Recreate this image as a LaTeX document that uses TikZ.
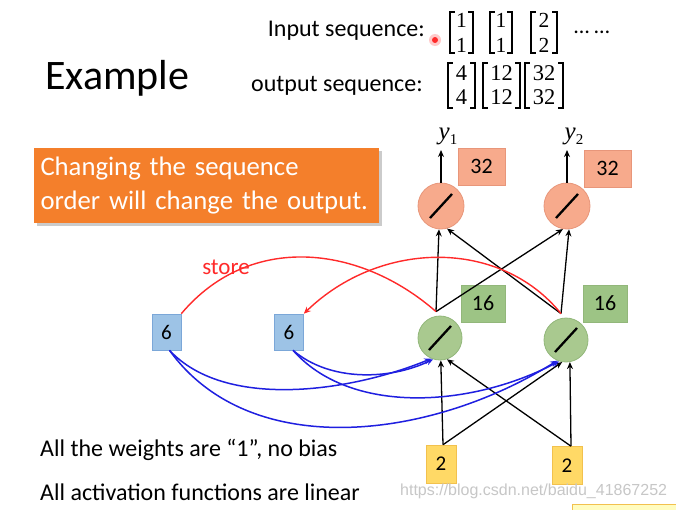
\documentclass[tikz,border=0pt]{standalone}
\usepackage{fontspec}
\setmainfont{Carlito}
\newfontfamily\wmfont{Liberation Sans}
\newfontfamily\labfont{Liberation Serif}
\usetikzlibrary{arrows.meta,shadows,calc}
\definecolor{orangebox}{HTML}{F47F2B}
\definecolor{salmonfill}{HTML}{F7AA8C}
\definecolor{salmonline}{HTML}{E8967A}
\definecolor{greenfill}{HTML}{A9C98F}
\definecolor{greenline}{HTML}{92B77A}
\definecolor{greenbox}{HTML}{9DC485}
\definecolor{bluefill}{HTML}{9DC3E6}
\definecolor{blueline}{HTML}{7BA7D8}
\definecolor{yellowfill}{HTML}{FFD966}
\definecolor{yellowline}{HTML}{F2C14E}
\definecolor{storered}{HTML}{FF2A2A}
\definecolor{readblue}{HTML}{1F1FE0}
\newcommand{\ylab}[1]{{\labfont\itshape y}\raisebox{-5pt}{\fontsize{15}{15}\selectfont\labfont #1}}
\newcommand{\brk}[1]{%
  \draw[brack] ($(#1.north west)+(5,0)$) -- (#1.north west) -- (#1.south west) -- ++(5,0);
  \draw[brack] ($(#1.north east)+(-5,0)$) -- (#1.north east) -- (#1.south east) -- ++(-5,0);}
\begin{document}
\begin{tikzpicture}[x=1pt,y=-1pt,
  neuron/.style={circle, inner sep=0pt, line width=0.8pt},
  outn/.style={neuron, minimum size=46pt, fill=salmonfill, draw=salmonline},
  hidn/.style={neuron, minimum size=44pt, fill=greenfill, draw=greenline},
  valbox/.style={rectangle, inner sep=0pt, line width=0.6pt, font=\fontsize{22}{24}\selectfont},
  outbox/.style={valbox, fill=salmonfill, draw=salmonline, minimum width=47pt, minimum height=37pt},
  hidbox/.style={valbox, fill=greenbox, draw=greenline, minimum width=44pt, minimum height=37pt},
  membox/.style={valbox, fill=bluefill, draw=blueline, minimum width=29pt, minimum height=36pt, font=\fontsize{21}{23}\selectfont},
  inbox/.style={valbox, fill=yellowfill, draw=yellowline, minimum width=30pt, minimum height=38pt, font=\fontsize{21}{23}\selectfont},
  conn/.style={-{Stealth[length=7pt,width=6pt]}, line width=1.3pt, black},
  storeline/.style={line width=1.4pt, storered},
  readline/.style={line width=1.5pt, readblue, -{Stealth[length=7pt,width=6pt]}},
  slash/.style={line width=2.3pt, black},
  bodytext/.style={anchor=west, inner sep=0pt, font=\fontsize{24}{28}\selectfont},
  invec/.style={inner sep=0pt, align=center, minimum height=41pt, font=\labfont\fontsize{21.5}{25}\selectfont},
  outvec/.style={inner sep=0pt, align=center, minimum height=45pt, font=\labfont\fontsize{22.5}{24}\selectfont},
  brack/.style={line width=1.5pt, black}
]
\useasboundingbox (0,0) rectangle (676,509);
\fill[white] (0,0) rectangle (676,509);

% header
\node[anchor=west, inner sep=0pt, font=\fontsize{42}{46}\selectfont] (title) at (45,78) {Example};
\node[anchor=east, inner sep=0pt, font=\fontsize{24}{26}\selectfont] (inlab) at (425,31) {Input sequence:};
\node[anchor=east, inner sep=0pt, font=\fontsize{24}{26}\selectfont] (outlab) at (423,86) {output sequence:};
\fill[storered!25] (435,40) circle (6);
\fill[storered] (435,40) circle (3);
\node[invec, minimum width=23pt] (i1) at (461.5,32.5) {1\\1};
\node[invec, minimum width=22pt] (i2) at (501,32.5) {1\\1};
\node[invec, minimum width=26pt] (i3) at (544,32.5) {2\\2};
\brk{i1}\brk{i2}\brk{i3}
\node[anchor=west, inner sep=0pt, font=\fontsize{22}{24}\selectfont] (dots) at (574,32) {\ldots\ \ldots};
\node[outvec, minimum width=27pt] (o1v) at (461.5,85.5) {4\\4};
\node[outvec, minimum width=37pt] (o2v) at (501.5,85.5) {12\\12};
\node[outvec, minimum width=38pt] (o3v) at (544,85.5) {32\\32};
\brk{o1v}\brk{o2v}\brk{o3v}

% orange banner
\node[rectangle, fill=orangebox, minimum width=345pt, minimum height=75pt,
      drop shadow={shadow xshift=3pt, shadow yshift=-3pt, fill=black!40, opacity=0.5},
      text=white, align=left, text width=332pt, inner xsep=6.5pt, inner ysep=4pt,
      font=\fontsize{26.7}{34}\selectfont] (banner) at (206.5,185.5)
      {Changing the sequence\\order will change the output.};

% output layer
\node[outn] (o1) at (441,206) {};
\node[outn] (o2) at (567,206) {};
\draw[slash] ($(o1)+(-11,12)$) -- ($(o1)+(11,-12)$);
\draw[slash] ($(o2)+(-11,12)$) -- ($(o2)+(11,-12)$);
\node[inner sep=0pt, font=\fontsize{25}{27}\selectfont] (y1) at (448,136) {\ylab{1}};
\node[inner sep=0pt, font=\fontsize{25}{27}\selectfont] (y2) at (574,136) {\ylab{2}};
\draw[conn] (o1.north) -- (o1.north |- 0,150) coordinate (y1a);
\draw[conn] (o2.north) -- (o2.north |- 0,150) coordinate (y2a);
\node[outbox] (ob1) at (481.5,166.5) {32};
\node[outbox] (ob2) at (607.5,168.5) {32};

% hidden layer
\node[hidn] (h1) at (440,338) {};
\node[hidn] (h2) at (566,340) {};
\draw[slash] ($(h1)+(-11,12)$) -- ($(h1)+(11,-12)$);
\draw[slash] ($(h2)+(-11,12)$) -- ($(h2)+(11,-12)$);
\coordinate (h1t) at ($(h1.north)+(-4,-4)$);
\coordinate (h2t) at ($(h2.north)+(-5,-4)$);
\node[hidbox] (hb1) at (483,303.5) {16};
\node[hidbox] (hb2) at (605,303.5) {16};

% hidden -> output
\draw[conn] (h1t) -- (o1.-95);
\draw[conn] (h1t) -- (o2.-100);
\draw[conn] (h2t) -- (o2.-85);
\draw[conn] (h2t) -- (o1.-75);

% inputs
\node[inbox] (x1) at (441,464) {2};
\node[inbox] (x2) at (567,465.5) {2};
\draw[conn] ($(x1.north)+(2,0)$) coordinate (x1t) -- (h1.-88);
\draw[conn] (x1t) -- (h2.-100);
\draw[conn] ($(x2.north)+(4,0)$) coordinate (x2t) -- (h2.-80);
\draw[conn] (x2t) -- (h1.-72);

% memory cells
\node[membox] (m1) at (166.5,332) {6};
\node[membox] (m2) at (289,332) {6};

% store (red)
\draw[storeline] (m1.north east) .. controls (250,232) and (360,245) .. (h1t);
\draw[storeline, -{Stealth[length=7pt,width=6pt]}] (h2t) .. controls (500,238) and (380,240) .. (m2.north east);
\node[inner sep=0pt, text=storered, font=\fontsize{23}{25}\selectfont] (store) at (226,267) {store};

% read (blue)
\coordinate (m1b) at ($(m1.south)+(3,0)$);
\coordinate (m2b) at ($(m2.south)+(4,0)$);
\draw[readline] (m1b) .. controls (225,410) and (350,392) .. (h1.-113);
\draw[readline] (m1b) .. controls (250,462) and (430,440) .. (h2.-113);
\draw[readline] (m2b) .. controls (330,382) and (390,380) .. (h1.-108);
\draw[readline] (m2b) .. controls (350,415) and (470,408) .. (h2.-108);

% bottom texts
\node[bodytext] (t1) at (40,450) {All the weights are “1”, no bias};
\node[bodytext] (t2) at (40,492) {All activation functions are linear};
\node[anchor=west, inner sep=0pt, text=black!22, font=\wmfont\fontsize{16}{18}\selectfont] (wm) at (400,491) {https://blog.csdn.net/baidu\_41867252};
\fill[yellow!25, draw=yellowline, line width=0.6pt] (572,504) rectangle (680,512);
\end{tikzpicture}
\end{document}
